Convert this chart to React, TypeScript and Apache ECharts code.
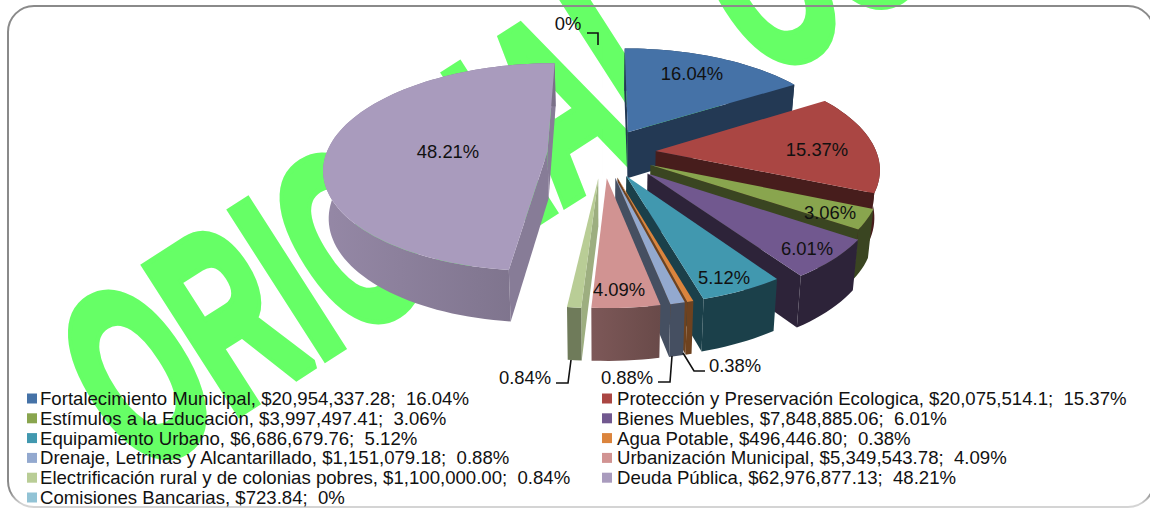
import React, { useEffect, useRef } from "react";
import * as echarts from "echarts";

const names = ["Fortalecimiento Municipal","Protección y Preservación Ecologica","Estímulos a la Educación","Bienes Muebles","Equipamiento Urbano","Agua Potable","Drenaje, Letrinas y Alcantarillado","Urbanización Municipal","Electrificación rural y de colonias pobres","Deuda Pública","Comisiones Bancarias"];
const values = [20954337.28,20075514.1,3997497.41,7848885.06,6686679.76,496446.8,1151079.18,5349543.78,1100000,62976877.13,723.84];
const amounts = ["$20,954,337.28","$20,075,514.1","$3,997,497.41","$7,848,885.06","$6,686,679.76","$496,446.80","$1,151,079.18","$5,349,543.78","$1,100,000.00","$62,976,877.13","$723.84"];
const percents = ["16.04%","15.37%","3.06%","6.01%","5.12%","0.38%","0.88%","4.09%","0.84%","48.21%","0%"];
const colors = ["#4572A7","#AA4643","#89A54E","#71588F","#4198AF","#DB843D","#93A9CF","#D19392","#B9CD96","#A99BBD","#92C3D5"];

// shading of the sides: [wall left, wall right, cut face]
const shades = [[.5,.5,.5],[.42,.42,.42],[.42,.42,.42],[.4,.4,.4],[.42,.42,.42],[.5,.5,.5],[.47,.47,.47],[.6,.5,.6],[.6,.6,.85],[.88,.72,.8],[.5,.5,.5]];
const explodeBy = [1,1,1,1.15,1,1,1,1,1,1.05,1];
const labelAt = [[692,73],[817,149],[830,212],[807,248],[724,277],[735,365],[627,377],[619,289],[525,377],[448,151],[568,23]];
const leaders: Record<number, number[][]> = {
  5: [[705,371],[694,371],[683,353]],
  6: [[658,382],[670,382],[672,356]],
  8: [[556,383],[568,383],[571,360]],
  10: [[587,33],[598,33],[598,45]],
};

const X0 = 603, Y0 = 153, SX = 221, SY = 102, PERSP = 0.149, EXPLODE = 0.24, DEPTH = 47, FONT = "Liberation Sans, Arial, sans-serif";
const total = values.reduce((a, b) => a + b, 0);

function project(u: number, v: number, bottom: boolean) {
  const den = 1 + PERSP * v;
  let x = X0 + (SX * u) / den;
  let y = Y0 - (SY * v) / den;
  if (bottom) {
    x = X0 + (x - X0) * 0.98;
    y += DEPTH / (1 + 0.6 * PERSP * v);
  }
  return [x, y];
}
function shade(hex: string, f: number) {
  const n = parseInt(hex.slice(1), 16);
  const c = [(n >> 16) & 255, (n >> 8) & 255, n & 255].map((d) => Math.round(d * f));
  return `rgb(${c[0]},${c[1]},${c[2]})`;
}
function area(p: number[][]) {
  let s = 0;
  p.forEach((a, i) => { const b = p[(i + 1) % p.length]; s += a[0] * b[1] - b[0] * a[1]; });
  return s / 2;
}

function renderSlice(i: number) {
  return (_: any, api: any) => {
    const value = api.value(0) as number;
    const before = values.slice(0, i).reduce((a, b) => a + b, 0);
    const a0 = (before / total) * Math.PI * 2;
    const a1 = a0 + (value / total) * Math.PI * 2;
    const mid = (a0 + a1) / 2;
    const e = EXPLODE * explodeBy[i];
    const cu = e * Math.sin(mid), cv = e * Math.cos(mid);
    const steps = Math.max(2, Math.ceil(((a1 - a0) / Math.PI) * 90));
    const rim = (bottom: boolean) => {
      const out: number[][] = [];
      for (let k = 0; k <= steps; k++) {
        const t = a0 + ((a1 - a0) * k) / steps;
        out.push(project(cu + Math.sin(t), cv + Math.cos(t), bottom));
      }
      return out;
    };
    const top = rim(false), bot = rim(true);
    const cT = project(cu, cv, false), cB = project(cu, cv, true);
    const col = colors[i], sh = shades[i];
    const children: any[] = [];
    // cut faces, only those turned to the viewer
    const faceStart = [cT, top[0], bot[0], cB];
    const faceEnd = [cT, top[steps], bot[steps], cB];
    if (area(faceStart) < 0) children.push({ type: "polygon", shape: { points: faceStart }, style: { fill: shade(col, sh[2]) } });
    if (area(faceEnd) > 0) children.push({ type: "polygon", shape: { points: faceEnd }, style: { fill: shade(col, sh[2]) } });
    children.push({
      type: "polygon",
      shape: { points: [...top, ...bot.slice().reverse()] },
      style: {
        fill: new echarts.graphic.LinearGradient(0, 0, 1, 0, [
          { offset: 0, color: shade(col, sh[0]) },
          { offset: 1, color: shade(col, sh[1]) },
        ]),
      },
    });
    children.push({ type: "polygon", shape: { points: [cT, ...top] }, style: { fill: col } });
    return { type: "group", children };
  };
}

function renderLabels(_: any, api: any) {
  const i = api.value(0) as number;
  const children: any[] = [{
    type: "text",
    x: labelAt[i][0], y: labelAt[i][1],
    style: { text: percents[i], fill: "#111", font: `18.4px ${FONT}`, align: "center", verticalAlign: "middle" },
  }];
  if (leaders[i]) children.push({ type: "polyline", shape: { points: leaders[i] }, style: { stroke: "#111", lineWidth: 1.6, fill: "none" } });
  return { type: "group", children };
}

const legendText = (i: number) => `${names[i]}, ${amounts[i]};  ${percents[i]}`;
const legendBase = {
  orient: "vertical" as const, top: 389, height: 200, itemWidth: 10, itemHeight: 10, itemGap: 0.8, icon: "rect", selectedMode: false,
  padding: 0,
};
const legendFont = { fontSize: 18.6, color: "#111", fontFamily: FONT, lineHeight: 18 };
const watermark = { font: `bold 236px ${FONT}`, fill: "#66FF66", stroke: "#66FF66", lineWidth: 10, align: "left", verticalAlign: "middle" };

export default function App() {
  const ref = useRef<HTMLDivElement>(null);
  useEffect(() => {
    const chart = echarts.init(ref.current!, undefined, { renderer: "svg" });
    chart.setOption({
      animation: false,
      legend: [
        { ...legendBase, left: 27, textStyle: { ...legendFont, padding: [0, 0, 0, -2] }, data: [0, 2, 4, 6, 8, 10].map(legendText) },
        { ...legendBase, left: 602, textStyle: legendFont, data: [1, 3, 5, 7, 9].map(legendText) },
      ],
      graphic: [
        { type: "text", z: 0, x: 91, y: 404, rotation: 0.57, scaleX: 0.6, scaleY: 1.06, style: { ...watermark, text: "ORIGINAL" } },
        { type: "text", z: 0, x: 723, y: 13, rotation: 0.57, scaleX: 0.6, scaleY: 1, style: { ...watermark, text: "CO" } },
        {
          type: "rect", z: 1, shape: { x: 8, y: 6, width: 1146, height: 501, r: 26 },
          style: {
            fill: "none", lineWidth: 2,
            stroke: new echarts.graphic.LinearGradient(0, 0, 0, 1, [
              { offset: 0, color: "#8a8a8a" }, { offset: 0.97, color: "#8a8a8a" }, { offset: 0.995, color: "#d4d4d4" }, { offset: 1, color: "#d4d4d4" },
            ]),
          },
        },
      ],
      series: [
        ...[10, 0, 1, 2, 3, 4, 5, 6, 7, 8, 9].map((i, order) => ({
          type: "custom", name: legendText(i), coordinateSystem: "none", silent: true, z: 3 + order,
          itemStyle: { color: colors[i] }, data: [[values[i]]], renderItem: renderSlice(i), clip: false,
        })),
        { type: "custom", name: "labels", coordinateSystem: "none", silent: true, z: 30, data: values.map((_, i) => [i]), renderItem: renderLabels },
      ],
    });
    return () => chart.dispose();
  }, []);
  return <div ref={ref} style={{ position: "absolute", left: 0, top: 0, width: 1150, height: 508 }} />;
}
